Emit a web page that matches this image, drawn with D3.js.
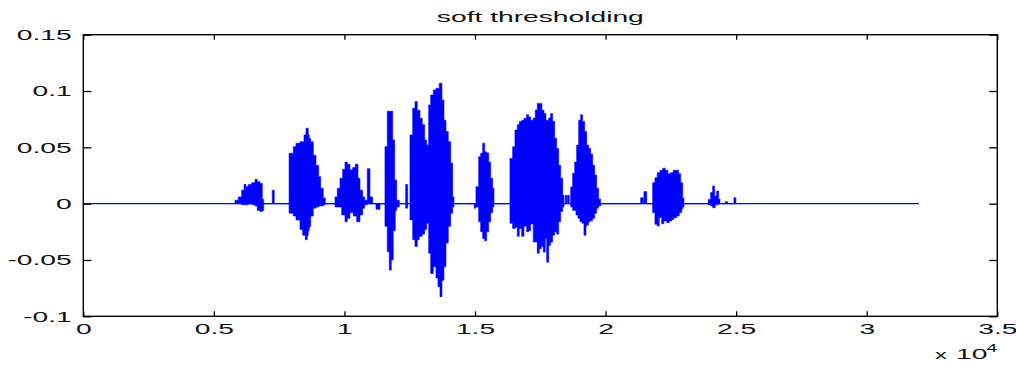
<!DOCTYPE html>
<html>
<head>
<meta charset="utf-8">
<script src="https://cdn.jsdelivr.net/npm/d3@7"></script>
<style>
  html, body { margin: 0; padding: 0; background: #fff; }
  svg { display: block; }
  text { font-family: "Liberation Sans", Arial, Helvetica, sans-serif; fill: #111; }
</style>
</head>
<body>
<svg id="chart" width="1016" height="366"></svg>
<script>
// Envelope of the soft-thresholded speech signal: each bin runs from
// envStart[i] to envStart[i+1] (sample index) and spans envLow..envHigh.
const envStart = [
  5809, 5935, 6065, 6153, 6230, 6318, 6448, 6575, 6662, 6766, 6854, 6908, 7236, 7312,
  7880, 8041, 8144, 8298, 8401, 8451, 8501, 8527, 8577, 8615, 8650, 8707, 8807, 8910, 9013, 9090, 9190, 9266,
  9638, 9726, 9829, 9894, 9932, 10021, 10109, 10212, 10315, 10338, 10415, 10468, 10518, 10595, 10698, 10775, 10874, 10978, 11081, 11207, 11361,
  11552, 11640, 11717, 11793, 11847, 11870, 11924, 11947, 12000, 12100, 12345, 12421,
  12509, 12613, 12701, 12789, 12866, 12892, 12980, 13072, 13148, 13225, 13302, 13402, 13505, 13582, 13631, 13658, 13735, 13811, 13888, 13976, 14068, 14145, 14194,
  14971, 15036, 15140, 15216, 15293, 15369, 15446, 15523, 15599, 15676, 15726,
  16338, 16441, 16530, 16618, 16694, 16786, 16874, 16977, 17054, 17131, 17230, 17307, 17384, 17460, 17537, 17563, 17613, 17640, 17690, 17717, 17744, 17820, 17897, 17973, 18050, 18127, 18203, 18280, 18357, 18406, 18456, 18533, 18559, 18609,
  18663, 18739, 18816, 18865, 18892, 18942, 18969, 19019, 19046, 19095, 19122, 19172, 19199, 19249, 19275, 19352, 19429, 19505, 19582, 19658, 19735, 19812,
  21343, 21442, 21469, 21573, 21802, 21890, 21978, 22055, 22082, 22147, 22185, 22235, 22285, 22338, 22388, 22438, 22491, 22530, 22591, 22618, 22694, 22721, 22798, 22821, 22875, 22913, 22951, 23001,
  23931, 24023, 24100, 24176, 24199, 24253, 24330, 24380, 24582, 24674, 24915, 24992
];
const envHigh = [
  0.003, 0.006, 0.012, 0.017, 0.015, 0.017, 0.0186, 0.0216, 0.0195, 0.018, 0.004, 0, 0.012, 0,
  0.0447, 0.0506, 0.0536, 0.055, 0.055, 0.061, 0.061, 0.067, 0.067, 0.061, 0.058, 0.055, 0.043, 0.034, 0.024, 0.0137, 0.005, 0,
  0.006, 0.0137, 0.0225, 0.0225, 0.0305, 0.037, 0.035, 0.030, 0.032, 0.032, 0.035, 0.035, 0.0225, 0.012, 0.006, 0.003, 0.031, 0.006, 0, 0, 0,
  0.0506, 0.082, 0.082, 0.082, 0.0566, 0.0566, 0.021, 0.021, 0.003, 0, 0.017, 0,
  0.061, 0.0847, 0.0906, 0.083, 0.083, 0.0758, 0.070, 0.0566, 0.052, 0.0876, 0.0965, 0.101, 0.1024, 0.1024, 0.107, 0.107, 0.092, 0.074, 0.064, 0.055, 0.036, 0.006, 0,
  0, 0.015, 0.0417, 0.0447, 0.0536, 0.046, 0.045, 0.037, 0.0225, 0.0137, 0,
  0.040, 0.0506, 0.0654, 0.070, 0.073, 0.074, 0.0758, 0.079, 0.077, 0.074, 0.076, 0.0832, 0.089, 0.089, 0.089, 0.083, 0.083, 0.080, 0.080, 0.074, 0.074, 0.076, 0.080, 0.073, 0.058, 0.049, 0.034, 0.0225, 0.0074, 0, 0.0074, 0, 0.0074, 0,
  0.0148, 0.027, 0.037, 0.037, 0.052, 0.052, 0.074, 0.074, 0.079, 0.079, 0.073, 0.073, 0.064, 0.064, 0.052, 0.049, 0.044, 0.034, 0.0255, 0.0137, 0.004, 0,
  0.0053, 0, 0.0107, 0, 0.0186, 0.023, 0.0275, 0.0275, 0.0296, 0.0296, 0.0314, 0.0314, 0.0296, 0.0296, 0.0266, 0.0266, 0.0275, 0.0275, 0.0296, 0.0296, 0.0296, 0.0296, 0.0266, 0.0266, 0.0186, 0.0186, 0.005, 0,
  0.0038, 0.0098, 0.0157, 0.0068, 0.0068, 0.0112, 0.004, 0, 0.0018, 0, 0.0053, 0
];
const envLow = [
  0, 0, -0.001, -0.001, -0.001, 0, -0.001, -0.002, -0.006, -0.007, -0.006, 0, 0, 0,
  -0.0085, -0.011, -0.0145, -0.023, -0.028, -0.028, -0.032, -0.032, -0.028, -0.024, -0.0204, -0.011, -0.004, -0.003, -0.002, -0.002, -0.001, 0,
  -0.003, -0.003, -0.003, -0.010, -0.010, -0.016, -0.013, -0.008, -0.008, -0.011, -0.011, -0.016, -0.016, -0.010, -0.004, -0.001, 0, 0, 0, -0.005, 0,
  -0.020, -0.0426, -0.059, -0.050, -0.050, -0.024, -0.024, -0.006, -0.003, 0, -0.004, 0,
  -0.0145, -0.032, -0.038, -0.032, -0.029, -0.029, -0.027, -0.023, -0.0175, -0.044, -0.062, -0.056, -0.066, -0.0737, -0.0737, -0.0826, -0.068, -0.056, -0.035, -0.020, -0.0085, -0.003, 0,
  -0.004, -0.003, -0.016, -0.0249, -0.031, -0.033, -0.025, -0.016, -0.008, -0.003, 0,
  -0.0174, -0.022, -0.021, -0.029, -0.022, -0.029, -0.020, -0.025, -0.024, -0.018, -0.034, -0.034, -0.044, -0.040, -0.038, -0.038, -0.043, -0.043, -0.031, -0.031, -0.052, -0.037, -0.034, -0.028, -0.025, -0.027, -0.016, -0.007, -0.003, 0, 0, 0, 0, 0,
  -0.003, -0.006, -0.006, -0.010, -0.010, -0.013, -0.013, -0.016, -0.016, -0.0174, -0.0174, -0.028, -0.028, -0.020, -0.019, -0.016, -0.015, -0.013, -0.0085, -0.004, -0.002, 0,
  0, 0, 0, 0, -0.008, -0.0183, -0.0198, -0.0124, -0.0124, -0.0178, -0.0178, -0.0154, -0.0154, -0.0169, -0.0169, -0.0154, -0.0154, -0.014, -0.014, -0.0124, -0.0124, -0.011, -0.011, -0.008, -0.008, -0.005, -0.003, 0,
  -0.001, -0.002, -0.0036, -0.0036, -0.001, -0.001, 0, 0, 0, 0, 0, 0
];
const signalLength = 32000;

// Axis ticks and their labels
const xTicks = [0, 5000, 10000, 15000, 20000, 25000, 30000, 35000];
const xTickLabels = ["0", "0.5", "1", "1.5", "2", "2.5", "3", "3.5"];
const yTicks = [-0.1, -0.05, 0, 0.05, 0.1, 0.15];
const yTickLabels = ["-0.1", "-0.05", "0", "0.05", "0.1", "0.15"];
const titleText = "soft thresholding";

// Layout
const plot = { left: 83.3, right: 997.3, top: 34.7, bottom: 316.3 };
const STRETCH = 1.82;      // horizontal stretch of the lettering
const FONT = 15.5;
const WAVE = "#0000ff";

const svg = d3.select("#chart");
svg.append("rect").attr("width", 1016).attr("height", 366).attr("fill", "#fff");

const x = d3.scaleLinear().domain([0, 35000]).range([plot.left, plot.right]);
const y = d3.scaleLinear().domain([-0.1, 0.15]).range([plot.bottom, plot.top]);

// Signal: zero baseline across the whole recording, then the envelope
const wave = svg.append("g");
wave.append("line")
  .attr("x1", x(0)).attr("x2", x(signalLength))
  .attr("y1", y(0)).attr("y2", y(0))
  .attr("stroke", WAVE).attr("stroke-width", 1.3);

const envelope = envStart.map((s, i) => ({ s, hi: envHigh[i], lo: envLow[i] }));

const area = d3.area()
  .curve(d3.curveStepAfter)
  .x(d => x(d.s))
  .y0(d => y(d.lo))
  .y1(d => y(d.hi));

wave.append("path")
  .datum(envelope)
  .attr("d", area)
  .attr("fill", WAVE)
  .attr("stroke", WAVE)
  .attr("stroke-width", 0.6)
  .attr("stroke-linejoin", "miter");

// Stretch tick labels horizontally about their anchor
function stretchLabels(g) {
  g.selectAll(".tick text").each(function () {
    const t = d3.select(this);
    const tx = +t.attr("x") || 0, ty = +t.attr("y") || 0;
    t.attr("x", 0).attr("y", 0)
     .attr("transform", `translate(${tx},${ty}) scale(${STRETCH},1)`);
  });
}

function styleAxis(g) {
  g.select(".domain").remove();
  g.selectAll(".tick line").attr("stroke", "#000").attr("stroke-width", 1.3);
  g.selectAll(".tick text").attr("font-size", FONT).attr("fill", "#111")
    .attr("font-family", '"Liberation Sans", Arial, sans-serif');
}

// Bottom axis with labels, inward ticks
const gx = svg.append("g").attr("transform", `translate(0,${plot.bottom})`)
  .call(d3.axisBottom(x).tickValues(xTicks)
    .tickFormat((d, i) => xTickLabels[i]).tickSizeInner(-5).tickSizeOuter(0).tickPadding(7));
styleAxis(gx); stretchLabels(gx);

// Top axis: ticks only
const gxt = svg.append("g").attr("transform", `translate(0,${plot.top})`)
  .call(d3.axisTop(x).tickValues(xTicks).tickFormat("").tickSizeInner(-5).tickSizeOuter(0));
styleAxis(gxt);

// Left axis with labels, inward ticks
const gy = svg.append("g").attr("transform", `translate(${plot.left},0)`)
  .call(d3.axisLeft(y).tickValues(yTicks)
    .tickFormat((d, i) => yTickLabels[i]).tickSizeInner(-8).tickSizeOuter(0).tickPadding(11.6));
styleAxis(gy); stretchLabels(gy);

// Right axis: ticks only
const gyr = svg.append("g").attr("transform", `translate(${plot.right},0)`)
  .call(d3.axisRight(y).tickValues(yTicks).tickFormat("").tickSizeInner(-8).tickSizeOuter(0));
styleAxis(gyr);

// Axes box
svg.append("rect")
  .attr("x", plot.left).attr("y", plot.top)
  .attr("width", plot.right - plot.left).attr("height", plot.bottom - plot.top)
  .attr("fill", "none").attr("stroke", "#000").attr("stroke-width", 1.4);

// Title
svg.append("text")
  .attr("transform", `translate(${(plot.left + plot.right) / 2},22) scale(${STRETCH},1)`)
  .attr("text-anchor", "middle").attr("font-size", FONT)
  .text(titleText);

// Exponent note under the x axis
svg.append("text")
  .attr("transform", `translate(935,359) scale(${STRETCH},1)`)
  .attr("font-size", 13).text("x");
svg.append("text")
  .attr("transform", `translate(956,359) scale(${STRETCH},1)`)
  .attr("font-size", FONT).text("10");
svg.append("text")
  .attr("transform", `translate(986.5,351.5) scale(${STRETCH},1)`)
  .attr("font-size", 10.5).text("4");
</script>
</body>
</html>
